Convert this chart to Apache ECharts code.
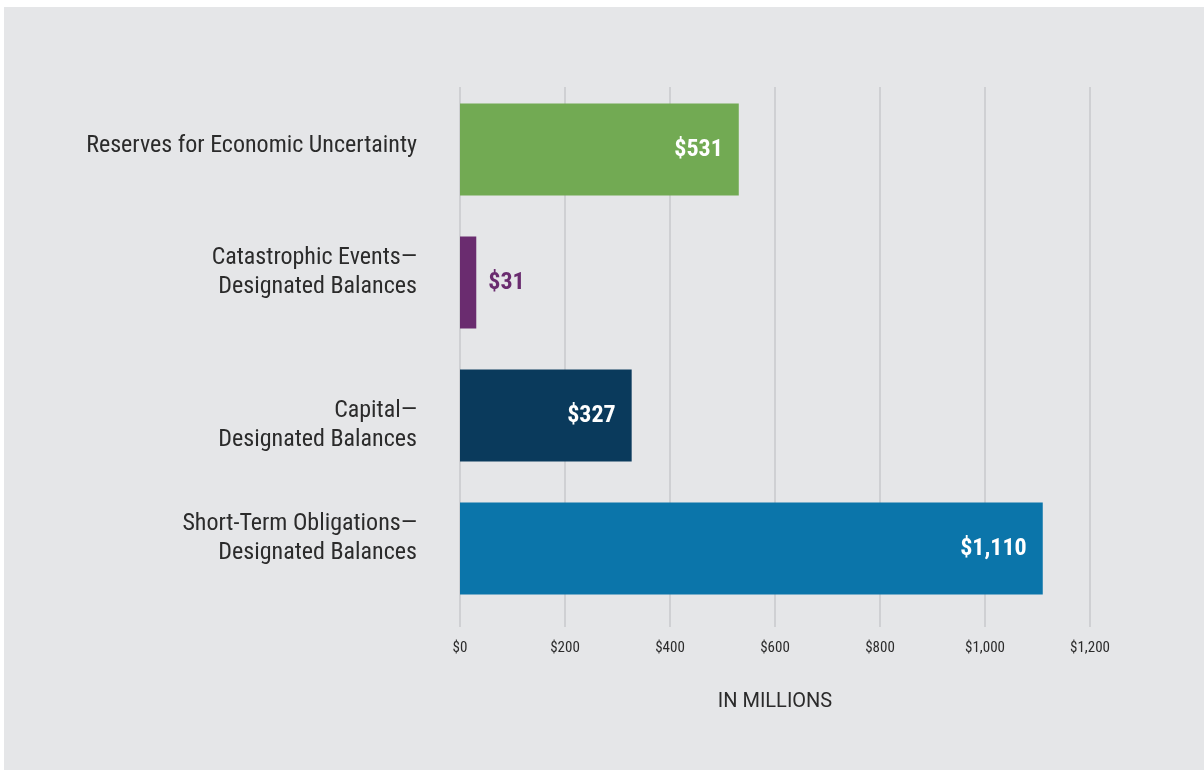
<!DOCTYPE html>
<html>
<head>
<meta charset="utf-8">
<script src="https://cdn.jsdelivr.net/npm/echarts@6/dist/echarts.min.js"></script>
<style>
  html, body { margin: 0; padding: 0; background: #ffffff; }
  #bg { position: absolute; left: 4px; top: 7px; width: 1200px; height: 763px; background: #e5e6e8; }
  #chart { position: absolute; left: 0; top: 0; width: 1204px; height: 771px; }
</style>
</head>
<body>
<div id="bg"></div>
<div id="chart"></div>
<script>
const categories = [
  'Reserves for Economic Uncertainty',
  'Catastrophic Events—\nDesignated Balances',
  'Capital—\nDesignated Balances',
  'Short-Term Obligations—\nDesignated Balances'
];
const values = [531, 31, 327, 1110];
const barColors = ['#72aa53', '#6a2c6f', '#0a3a5c', '#0b75aa'];
const labelColors = ['#ffffff', '#6a2c6f', '#ffffff', '#ffffff'];
const labelInside = [true, false, true, true];
// vertical shift of each category label relative to its bar (negative = up), px
const labelShift = [-4, -10, 10, -10];
const xTicks = { min: 0, max: 1200, interval: 200 };
const axisTitle = 'IN MILLIONS';

const FONT = '"Roboto Condensed", "Liberation Sans Narrow", "DejaVu Sans Condensed", "Liberation Sans", sans-serif';

const fmtMoney = v => '$' + v.toLocaleString('en-US');

function catLabel(value, index) {
  const lines = String(value).split('\n').map(l => '{a|' + l + '}');
  const s = labelShift[index] || 0;
  const spacer = 'u' + Math.round(Math.abs(2 * s));
  if (s < 0) lines.push('{' + spacer + '| }');
  else if (s > 0) lines.unshift('{' + spacer + '| }');
  return lines.join('\n');
}
const rich = { a: { color: '#2b2b2b', fontFamily: FONT, fontSize: 24, lineHeight: 29, align: 'right' } };
labelShift.forEach(s => {
  const h = Math.round(Math.abs(2 * s));
  if (h) rich['u' + h] = { fontSize: 1, lineHeight: h, height: h };
});

const chart = echarts.init(document.getElementById('chart'), null, { renderer: 'canvas' });
chart.setOption({
  backgroundColor: 'transparent',
  animation: false,
  grid: [
    { left: 460, right: 114, top: 87, bottom: 144 },
    { left: 460, right: 114, top: 83, bottom: 156 }
  ],
  xAxis: [
    {
      gridIndex: 0, type: 'value', min: xTicks.min, max: xTicks.max, interval: xTicks.interval,
      axisLine: { show: false }, axisTick: { show: false },
      splitLine: { show: true, lineStyle: { color: '#cfd0d3', width: 2 } },
      axisLabel: { formatter: fmtMoney, color: '#2b2b2b', fontFamily: FONT, fontSize: 15, margin: 14 },
      name: axisTitle, nameLocation: 'middle', nameGap: 65,
      nameTextStyle: { color: '#2b2b2b', fontFamily: 'Roboto, "Liberation Sans", sans-serif', fontSize: 20 }
    },
    {
      gridIndex: 1, type: 'value', min: xTicks.min, max: xTicks.max, interval: xTicks.interval,
      show: false, splitLine: { show: false }
    }
  ],
  yAxis: [
    { gridIndex: 0, type: 'category', data: [''], show: false },
    {
      gridIndex: 1, type: 'category', inverse: true, data: categories,
      axisLine: { show: false }, axisTick: { show: false },
      axisLabel: { formatter: catLabel, rich: rich, margin: 43, align: 'right' }
    }
  ],
  series: [{
    type: 'bar', xAxisIndex: 1, yAxisIndex: 1, barWidth: 92,
    data: values.map((v, i) => ({
      value: v,
      itemStyle: { color: barColors[i] },
      label: {
        show: true,
        position: labelInside[i] ? 'insideRight' : 'right',
        distance: labelInside[i] ? 16 : 12,
        color: labelColors[i]
      }
    })),
    label: { fontFamily: FONT, fontWeight: 'bold', fontSize: 24, formatter: p => fmtMoney(p.value) }
  }]
});
</script>
</body>
</html>
